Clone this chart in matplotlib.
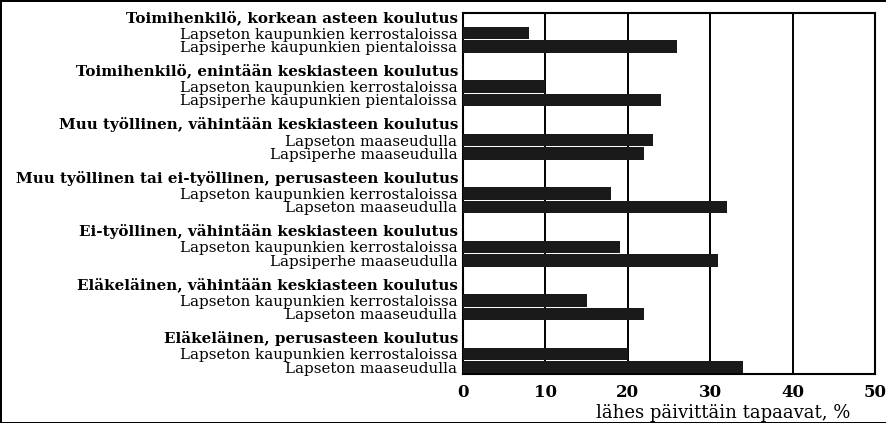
import matplotlib.pyplot as plt
from matplotlib.transforms import blended_transform_factory

# group headers (bold) and the two rows under each
groups = [
    "Toimihenkilö, korkean asteen koulutus",
    "Toimihenkilö, enintään keskiasteen koulutus",
    "Muu työllinen, vähintään keskiasteen koulutus",
    "Muu työllinen tai ei-työllinen, perusasteen koulutus",
    "Ei-työllinen, vähintään keskiasteen koulutus",
    "Eläkeläinen, vähintään keskiasteen koulutus",
    "Eläkeläinen, perusasteen koulutus",
]
row_labels = [
    ["Lapseton kaupunkien kerrostaloissa", "Lapsiperhe kaupunkien pientaloissa"],
    ["Lapseton kaupunkien kerrostaloissa", "Lapsiperhe kaupunkien pientaloissa"],
    ["Lapseton maaseudulla", "Lapsiperhe maaseudulla"],
    ["Lapseton kaupunkien kerrostaloissa", "Lapseton maaseudulla"],
    ["Lapseton kaupunkien kerrostaloissa", "Lapsiperhe maaseudulla"],
    ["Lapseton kaupunkien kerrostaloissa", "Lapseton maaseudulla"],
    ["Lapseton kaupunkien kerrostaloissa", "Lapseton maaseudulla"],
]
values = [
    [8, 26],
    [10, 24],
    [23, 22],
    [18, 32],
    [19, 31],
    [15, 22],
    [20, 34],
]
x_ticks = [0, 10, 20, 30, 40, 50]
x_label = "lähes päivittäin tapaavat, %"

plt.rcParams['font.family'] = ['DejaVu Serif']
fs = 10.9

fig = plt.figure(figsize=(8.87, 4.23), dpi=100)
fig.patch.set_edgecolor('black')
fig.patch.set_linewidth(2)
ax = fig.add_axes([463 / 887, 1 - 374 / 423, (875 - 463) / 887, (374 - 13) / 423])

# each group takes 4 slots: header, bar, bar, gap
ys, labels, vals = [], [], []
header_y = []
for g in range(len(groups)):
    header_y.append(4 * g + 0.35)
    for i in range(2):
        ys.append(4 * g + 1.5 + i)
        labels.append(row_labels[g][i])
        vals.append(values[g][i])

ax.barh(ys, vals, height=0.92, color='#1a1a1a', zorder=3)
ax.set_ylim(27, 0)
ax.set_xlim(0, 50)
ax.set_yticks(ys)
ax.set_yticklabels(labels, fontsize=fs)
ax.set_xticks(x_ticks)
ax.set_xticklabels([str(t) for t in x_ticks], fontsize=12, fontweight='bold')
ax.tick_params(axis='y', length=0, pad=4)
ax.tick_params(axis='x', length=0, pad=7)
ax.grid(axis='x', color='black', linewidth=1.4, zorder=1)
for s in ax.spines.values():
    s.set_linewidth(1.5)

tr = blended_transform_factory(ax.transAxes, ax.transData)
for g, name in enumerate(groups):
    ax.text(-0.012, header_y[g], name, transform=tr, ha='right', va='center',
            fontsize=fs, fontweight='bold')

ax.set_xlabel(x_label, fontsize=13, va='center')
ax.xaxis.set_label_coords((723 - 463) / (875 - 463), -(413 - 374) / (374 - 13))

fig.savefig('out.png', dpi=100)
